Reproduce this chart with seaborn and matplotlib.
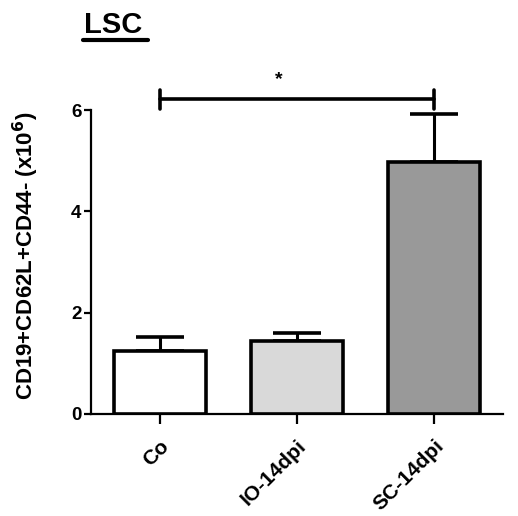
import matplotlib
matplotlib.use("Agg")
import matplotlib.pyplot as plt
import seaborn as sns
import pandas as pd

categories = ["Co", "IO-14dpi", "SC-14dpi"]
means = [1.24, 1.44, 4.97]
sem = [0.28, 0.16, 0.95]
bar_colors = ["#ffffff", "#d9d9d9", "#999999"]
y_ticks = [0, 2, 4, 6]
title = "LSC"
y_label = "CD19+CD62L+CD44- (x10$^{6}$)"
sig_pair = (0, 2)
sig_label = "*"

sns.set_theme(style="ticks")
plt.rcParams["font.family"] = ["Liberation Sans", "DejaVu Sans"]
plt.rcParams["font.weight"] = "bold"
plt.rcParams["mathtext.default"] = "bf"
for key in ("text.color", "axes.labelcolor", "xtick.color", "ytick.color",
            "axes.edgecolor"):
    plt.rcParams[key] = "black"

fig = plt.figure(figsize=(5.18, 5.16), dpi=100)
ax = fig.add_axes([0.1757, 0.1977, 0.7953, 0.5891])

df = pd.DataFrame({"group": categories, "value": means})
sns.barplot(data=df, x="group", y="value", hue="group", palette=bar_colors,
            edgecolor="black", linewidth=2.6, width=0.67, legend=False,
            saturation=1, ax=ax, zorder=3)

ax.errorbar(range(len(categories)), means, yerr=[[0] * len(sem), sem],
            fmt="none", ecolor="black", elinewidth=2.2, capsize=17,
            capthick=2.6, zorder=2)

ax.set_xlim(-0.5, 2.5)
ax.set_ylim(0, 6)
ax.set_yticks(y_ticks)
ax.set_xlabel("")
ax.set_ylabel(y_label, fontsize=16, fontweight="bold")
ax.yaxis.set_label_coords(-0.122, 0.52)

for side in ("top", "right"):
    ax.spines[side].set_visible(False)
for side in ("left", "bottom"):
    ax.spines[side].set_linewidth(1.6)

ax.tick_params(axis="y", length=5, width=1.6, labelsize=13.5, pad=2)
ax.tick_params(axis="x", length=7, width=1.6, labelsize=15, pad=9)
for lbl in ax.get_yticklabels():
    lbl.set_fontweight("bold")
for lbl in ax.get_xticklabels():
    lbl.set_fontweight("bold")
    lbl.set_rotation(45)
    lbl.set_ha("right")
    lbl.set_rotation_mode("anchor")

# significance bracket between Co and SC-14dpi
x0, x1 = sig_pair
y_br = 6.21
ax.plot([x0, x1], [y_br, y_br], color="black", lw=2.6, clip_on=False,
        solid_capstyle="round")
for xx in (x0, x1):
    ax.plot([xx, xx], [y_br - 0.19, y_br + 0.19], color="black", lw=2.6,
            clip_on=False, solid_capstyle="round")
ax.text((x0 + x1) / 2 - 0.13, y_br + 0.22, sig_label, ha="center", va="bottom",
        fontsize=14, fontweight="bold")

fig.text(0.162, 0.936, title, fontsize=21, fontweight="bold", ha="left",
         va="baseline")
fig.add_artist(plt.Line2D([0.160, 0.286], [0.9225, 0.9225],
                          color="black", lw=3, transform=fig.transFigure))

fig.savefig("out.png", dpi=100)
